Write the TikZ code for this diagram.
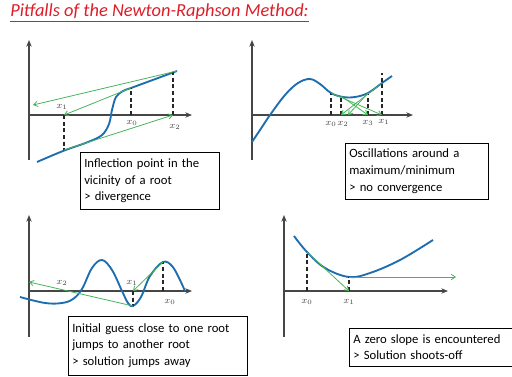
\documentclass[tikz,border=0pt]{standalone}
\usepackage{fontspec}
\setmainfont{Carlito}
\usetikzlibrary{arrows.meta}
\definecolor{curveblue}{RGB}{30,110,175}
\definecolor{tangentgreen}{RGB}{70,180,90}
\definecolor{axisgray}{RGB}{70,70,70}
\definecolor{titlered}{RGB}{220,30,40}

\begin{document}
\begin{tikzpicture}[x=0.75pt, y=-0.75pt, >=Stealth,
      axis/.style={-{Stealth[length=5pt,width=4pt]}, thick, draw=axisgray},
      curve/.style={draw=curveblue, line width=1.4pt},
      tang/.style={-{Straight Barb[length=3pt,width=4pt]}, draw=tangentgreen, line width=0.6pt},
      guide/.style={dash pattern=on 3pt off 2pt, line width=0.9pt, draw=black!85},
      note/.style={draw, thin, align=left, anchor=north west, inner sep=3pt,
                   font=\fontsize{9.5}{12.5}\selectfont},
      lbl/.style={font=\scriptsize, text=axisgray, inner sep=1pt}
    ]
    \clip (0,0) rectangle (512,376);

    \node[anchor=west, inner sep=0pt, text=titlered, font=\fontsize{13.8}{16}\selectfont\itshape] (title) at (10,13)
          {\underline{Pitfalls of the Newton-Raphson Method:}};

    % inflection point
    \draw[axis] (29,160) -- (29,40);
    \draw[axis] (29,115) -- (192,115);
    \draw[curve] plot[smooth, tension=0.6] coordinates
          {(37,162) (63,151) (88,142) (102,135) (109,124) (112,110) (116,97) (123,91) (131,88) (150,81) (177,71)};
    \coordinate (ia) at (131,88);  \coordinate (ib) at (131,115);
    \coordinate (ic) at (64,115);  \coordinate (id) at (64,150);
    \coordinate (ie) at (173,115); \coordinate (if) at (173,72);
    \coordinate (ig) at (33,105);
    \draw[guide] (ib) -- (ia);
    \draw[guide] (ic) -- (id);
    \draw[guide] (ie) -- (if);
    \draw[tang] (ia) -- (ic);
    \draw[tang] (id) -- (ie);
    \draw[tang] (177,71) -- (ig);
    \node[lbl] (ix1) at (62,107) {$x_1$};
    \node[lbl] (ix0) at (132,123) {$x_0$};
    \node[lbl] (ix2) at (175,127) {$x_2$};
    \node[note, text width=98pt, minimum height=42.75pt] (inote) at (80,152)
          {Inflection point in the\\vicinity of a root\\> divergence};

    % oscillation
    \draw[axis] (252,160) -- (252,40);
    \draw[axis] (252,115) -- (413,115);
    \draw[curve] plot[smooth, tension=0.6] coordinates
          {(252,142) (262,127) (270,115) (285,95) (298,83) (310,79) (320,84) (331,93) (343,97) (355,97) (368,93) (382,83) (392,76)};
    \coordinate (oa) at (331,93);  \coordinate (ob) at (331,115);
    \coordinate (oc) at (341,96);  \coordinate (od) at (341,115);
    \coordinate (oe) at (368,93);  \coordinate (of) at (368,115);
    \coordinate (og) at (382,83);  \coordinate (oh) at (382,115);
    \coordinate (ot) at (382,73);  \coordinate (ok) at (348,115);
    \draw[guide] (ob) -- (oa);
    \draw[guide] (od) -- (oc);
    \draw[guide] (of) -- (oe);
    \draw[guide] (oh) -- (ot);
    \draw[tang] (oa) -- (oh);
    \draw[tang] (og) -- (od);
    \draw[tang] (oc) -- (of);
    \draw[tang] (oe) -- (ok);
    \node[lbl] (ox0) at (331,124) {$x_0$};
    \node[lbl] (ox2) at (343,124) {$x_2$};
    \node[lbl] (ox3) at (368,123) {$x_3$};
    \node[lbl] (ox1) at (384,122) {$x_1$};
    \node[note, text width=101pt, minimum height=42pt] (onote) at (345,143)
          {Oscillations around a\\maximum/minimum\\> no convergence};

    % root jumping
    \draw[axis] (29,337) -- (29,215);
    \draw[axis] (29,291) -- (192,291);
    \draw[curve] plot[smooth, tension=0.6] coordinates
          {(20,297) (45,303) (62,303) (73,299) (82,289) (92,268) (102,260) (112,270) (122,291) (128,303) (133,306) (141,297) (150,276) (163,262) (172,266) (179,278) (185,291)};
    \coordinate (ja) at (163,262); \coordinate (jb) at (163,291);
    \coordinate (jc) at (133,291); \coordinate (jd) at (133,306);
    \coordinate (je) at (29,282);
    \draw[guide] (jb) -- (ja);
    \draw[guide] (jc) -- (jd);
    \draw[tang] (ja) -- (jc);
    \draw[tang] (jd) -- (je);
    \node[lbl] (jx2) at (62,283) {$x_2$};
    \node[lbl] (jx1) at (132,283) {$x_1$};
    \node[lbl] (jx0) at (170,302) {$x_0$};
    \node[note, text width=128pt, minimum height=44pt] (jnote) at (68,316)
          {Initial guess close to one root\\jumps to another root\\> solution jumps away};

    % zero slope
    \draw[axis] (284,337) -- (284,215);
    \draw[axis] (284,291) -- (448,291);
    \draw[curve] plot[smooth, tension=0.6] coordinates
          {(294,236) (307,252) (325,268) (349,277) (370,273) (400,260) (433,240)};
    \coordinate (za) at (307,252); \coordinate (zb) at (307,291);
    \coordinate (zc) at (349,277); \coordinate (zd) at (349,291);
    \coordinate (ze) at (456,277);
    \draw[guide] (zb) -- (za);
    \draw[guide] (zd) -- (zc);
    \draw[tang] (za) -- (zd);
    \draw[tang] (zc) -- (ze);
    \node[lbl] (zx0) at (307,302) {$x_0$};
    \node[lbl] (zx1) at (349,302) {$x_1$};
    \node[note, text width=130pt, minimum height=28.5pt] (znote) at (349,328)
          {A zero slope is encountered\\> Solution shoots-off};
\end{tikzpicture}
\end{document}
